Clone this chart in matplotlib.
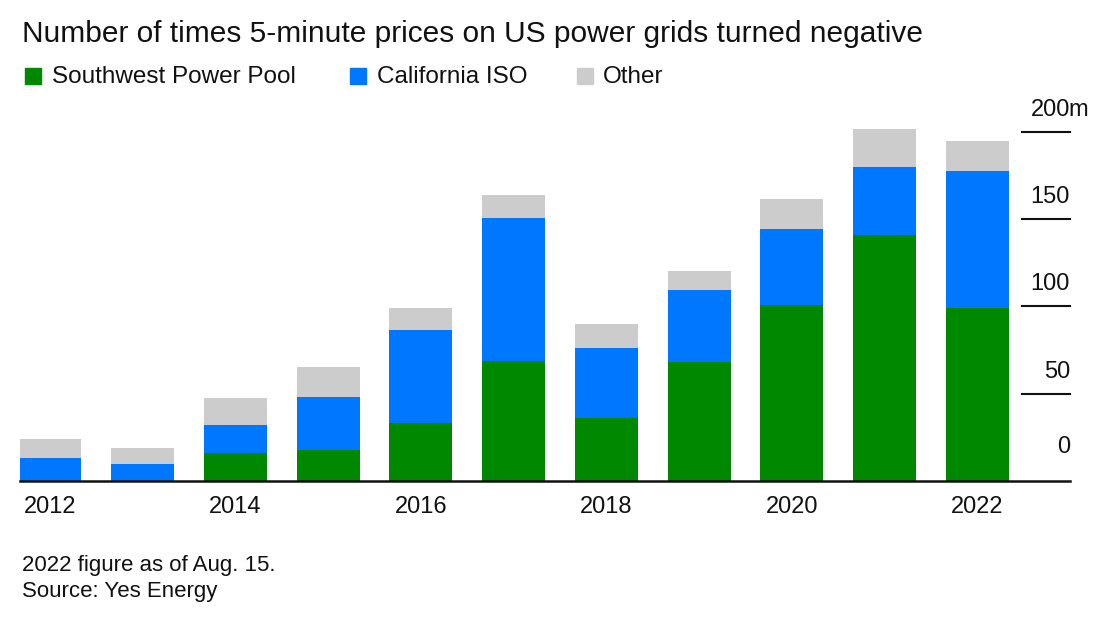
import numpy as np
import matplotlib
matplotlib.use("Agg")
import matplotlib.pyplot as plt
import matplotlib.transforms as mtransforms
from matplotlib.patches import Rectangle

plt.rcParams['font.family'] = ['Liberation Sans', 'DejaVu Sans']

years = [2012, 2013, 2014, 2015, 2016, 2017, 2018, 2019, 2020, 2021, 2022]
spp = [0, 0, 16, 18, 33, 69, 36, 68, 101, 141, 99]
caiso = [13, 10, 16, 30, 53.5, 81.5, 40, 41.5, 43.5, 39, 78.5]
other = [11, 9, 15.5, 17, 12.5, 13, 14, 11, 17, 21.5, 17]
series_names = ["Southwest Power Pool", "California ISO", "Other"]
colors = ["#008800", "#0077FF", "#CCCCCC"]
yticks = [0, 50, 100, 150, 200]
xtick_years = [2012, 2014, 2016, 2018, 2020, 2022]

W, H = 1113, 617
fig = plt.figure(figsize=(W / 100, H / 100), dpi=100)

def fx(px):
    return px / W

def fy(py):
    return 1 - py / H

top_px = 114.3
ax = fig.add_axes([fx(20), fy(481), fx(1050), (481 - top_px) / H])
x = np.arange(len(years))
bottom = np.zeros(len(years))
for vals, c in zip([spp, caiso, other], colors):
    ax.bar(x, vals, width=0.68, bottom=bottom, color=c, linewidth=0, zorder=2)
    bottom += np.array(vals)

ax.set_xlim(-0.323, 11.0)
ax.set_ylim(0, 210)
for s in ["top", "right", "left"]:
    ax.spines[s].set_visible(False)
ax.spines["bottom"].set_linewidth(1.8)
ax.spines["bottom"].set_color("#111111")
ax.spines["bottom"].set_zorder(3)
ax.set_yticks([])
ax.set_xticks([years.index(y) for y in xtick_years])
ax.set_xticklabels([str(y) for y in xtick_years], fontsize=17, color="#111111")
ax.tick_params(axis="x", length=0, pad=11)

ytrans = ax.get_yaxis_transform()
x0 = (1022 - 20) / 1050
for v in yticks:
    if v > 0:
        ax.plot([x0, 1.0], [v, v], transform=ytrans, color="#111111", lw=1.5, clip_on=False)
    off = 34 if v == 0 else 22
    t = mtransforms.offset_copy(ytrans, fig=fig, y=off, units="dots")
    ax.text(1.0, v, str(v), transform=t, ha="right", va="center", fontsize=17, color="#111111")
    if v == yticks[-1]:
        t2 = mtransforms.offset_copy(ytrans, fig=fig, x=-2, y=off, units="dots")
        ax.text(1.0, v, "m", transform=t2, ha="left", va="center", fontsize=17, color="#111111")

fig.text(fx(22), fy(34), "Number of times 5-minute prices on US power grids turned negative",
         fontsize=21.5, color="#111111", ha="left", va="center")

leg_sq = [25, 350, 577]
leg_tx = [52, 377, 603]
for name, c, sx, tx in zip(series_names, colors, leg_sq, leg_tx):
    fig.patches.append(Rectangle((fx(sx), fy(84)), fx(16), 16 / H, color=c, transform=fig.transFigure))
    fig.text(fx(tx), fy(77), name, fontsize=17.5, color="#111111", ha="left", va="center")

fig.text(fx(22), fy(566), "2022 figure as of Aug. 15.", fontsize=16, color="#111111", ha="left", va="center")
fig.text(fx(22), fy(592), "Source: Yes Energy", fontsize=16, color="#111111", ha="left", va="center")

fig.savefig("out.png", dpi=100, facecolor="white")
